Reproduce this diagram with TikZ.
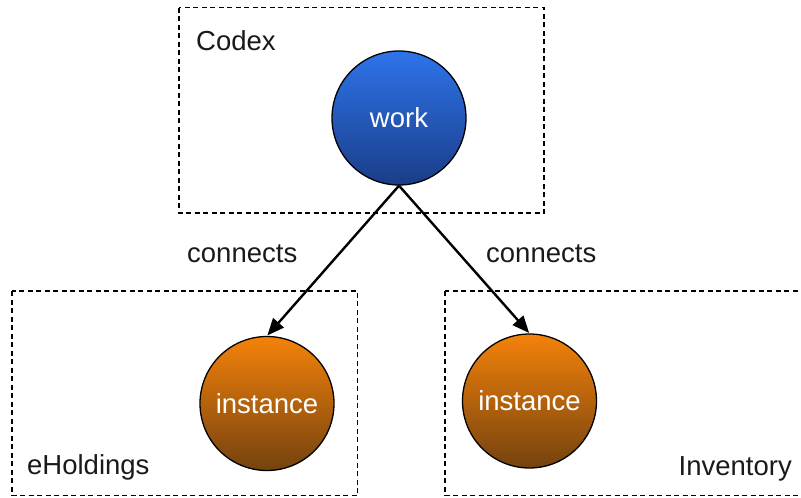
\documentclass[tikz,border=0pt]{standalone}
\usepackage{fontspec}
\setmainfont{Liberation Sans}
\usetikzlibrary{arrows.meta}
\definecolor{bluetop}{HTML}{2E74EA}
\definecolor{bluebot}{HTML}{1A3D88}
\definecolor{orangetop}{HTML}{F4820A}
\definecolor{orangebot}{HTML}{74420F}
\definecolor{labeltext}{HTML}{1A1A1A}
\tikzset{
  groupbox/.style={draw=black, line width=1.2pt, dash pattern=on 5pt off 3.5pt},
  ball/.style={circle, draw=black, line width=1.3pt, minimum size=134pt, inner sep=0pt,
    text=white, font=\fontsize{27.5}{33}\selectfont},
  workball/.style={ball, top color=bluetop, bottom color=bluebot},
  instball/.style={ball, top color=orangetop, bottom color=orangebot},
  lbl/.style={inner sep=0pt, text=labeltext, font=\fontsize{27.5}{33}\selectfont},
  conn/.style={draw=black, line width=2.4pt, -{Triangle[length=17pt,width=14pt]}, shorten >=0.5pt}
}
\begin{document}
\begin{tikzpicture}[x=1pt,y=-1pt]
\clip (0,0) rectangle (801,498);
\fill[white] (0,0) rectangle (801,498);
% group boxes
\draw[groupbox] (179,7.5) rectangle (544,213);
\draw[groupbox] (12,291) rectangle (357.5,495.5);
\draw[groupbox] (445,291) rectangle (812,495.5);
% group labels
\node[lbl, anchor=base west] (codexlbl) at (196,50) {Codex};
\node[lbl, anchor=base west] (eholdlbl) at (27,474) {eHoldings};
\node[lbl, anchor=base east] (invlbl) at (792,475) {Inventory};
% balls
\node[workball] (work) at (399,118) {work};
\node[instball] (instL) at (267,403.5) {instance};
\node[instball] (instR) at (529.5,401) {instance};
% connectors
\draw[conn] (work.south) -- (instL.north);
\draw[conn] (work.south) -- (instR.north);
\node[lbl, anchor=base west] (connL) at (187,262) {connects};
\node[lbl, anchor=base west] (connR) at (486,262) {connects};
\end{tikzpicture}
\end{document}
